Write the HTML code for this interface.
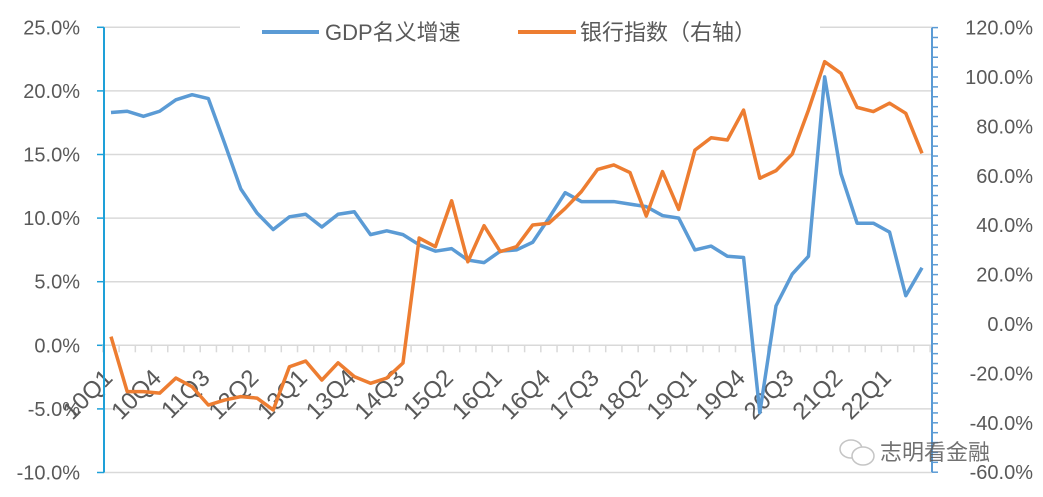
<!DOCTYPE html>
<html><head><meta charset="utf-8"><style>
html,body{margin:0;padding:0;background:#fff;}
svg{display:block;font-family:"Liberation Sans","Noto Sans CJK SC",sans-serif;}
</style></head><body>
<svg id="chart" width="1043" height="497"></svg>
<script>
const categories=["10Q1","10Q2","10Q3","10Q4","11Q1","11Q2","11Q3","11Q4","12Q1","12Q2","12Q3","12Q4","13Q1","13Q2","13Q3","13Q4","14Q1","14Q2","14Q3","14Q4","15Q1","15Q2","15Q3","15Q4","16Q1","16Q2","16Q3","16Q4","17Q1","17Q2","17Q3","17Q4","18Q1","18Q2","18Q3","18Q4","19Q1","19Q2","19Q3","19Q4","20Q1","20Q2","20Q3","20Q4","21Q1","21Q2","21Q3","21Q4","22Q1","22Q2","22Q3"];
const gdpValues=[18.3,18.4,18.0,18.4,19.3,19.7,19.4,15.9,12.3,10.4,9.1,10.1,10.3,9.3,10.3,10.5,8.7,9.0,8.7,7.9,7.4,7.6,6.7,6.5,7.4,7.5,8.1,10.0,12.0,11.3,11.3,11.3,11.1,10.9,10.2,10.0,7.5,7.8,7.0,6.9,-5.3,3.1,5.6,7.0,21.1,13.5,9.6,9.6,8.9,3.9,6.1];
const bankValues=[-5.1,-27.4,-27.4,-28,-21.9,-25.4,-32.8,-30.8,-29.4,-30,-34.8,-17.3,-15,-22.7,-15.7,-21.3,-24,-21.9,-15.8,34.8,31.3,49.9,25.2,39.8,29.3,31.3,40.1,40.8,46.8,53.6,62.6,64.4,61.3,43.7,61.7,46.4,70.4,75.4,74.5,86.6,59,62.1,68.8,86.6,106.2,101.5,87.7,86,89.4,85.3,69.1];
const leftTicks=[25,20,15,10,5,0,-5,-10];
const rightTicks=[120,100,80,60,40,20,0,-20,-40,-60];

const NS="http://www.w3.org/2000/svg";
const svg=document.getElementById('chart');
function el(t,a,p){const e=document.createElementNS(NS,t);for(const k in a)e.setAttribute(k,a[k]);(p||svg).appendChild(e);return e;}
const X0=104,X1=932,x0=111,dx=16.22;
const yL=v=>345.3-v*12.72;
const yR=v=>324-v*2.47;
const xI=i=>x0+i*dx;

leftTicks.forEach(v=>{
  if(v!==0&&v!==-10){const g=el('line',{x1:X0,x2:X1,y1:yL(v),y2:yL(v),stroke:'#d9d9d9','stroke-width':1.5});
  }
  const t=el('text',{x:80,y:yL(v)+7,'text-anchor':'end','font-size':20,fill:'#595959'});
  t.textContent=v.toFixed(1)+'%';
  
  const tk=el('line',{x1:97,x2:X0,y1:yL(v),y2:yL(v),stroke:'#1ea0d8','stroke-width':1.5});
  
});
const gb=el('line',{x1:X0,x2:X1,y1:yL(-10),y2:yL(-10),stroke:'#d9d9d9','stroke-width':1.5});

const ca=el('line',{x1:X0,x2:X1,y1:yL(0),y2:yL(0),stroke:'#d9d9d9','stroke-width':1.5});

for(let i=0;i<=categories.length;i++){
  const xx=x0-dx/2+i*dx;
  const tk=el('line',{x1:xx,x2:xx,y1:yL(0),y2:yL(0)+7,stroke:'#d9d9d9','stroke-width':1.5});
  
}
categories.forEach((c,i)=>{
  if(i%3!==0)return;
  const xx=xI(i)+3,yy=yL(0)+34;
  const t=el('text',{x:xx,y:yy,'text-anchor':'end','font-size':24,fill:'#595959',transform:`rotate(-45 ${xx} ${yy})`});
  t.textContent=c;
  
});
const la=el('line',{x1:X0,x2:X0,y1:yL(25),y2:yL(-10),stroke:'#1ea0d8','stroke-width':2});

const ra=el('line',{x1:X1,x2:X1,y1:yR(120),y2:yR(-60),stroke:'#5b9bd5','stroke-width':2});

for(let v=120;v>=-60;v-=4){
  const tk=el('line',{x1:X1,x2:X1+6,y1:yR(v),y2:yR(v),stroke:'#5b9bd5','stroke-width':1.5});
  
}
rightTicks.forEach(v=>{
  const t=el('text',{x:1033,y:yR(v)+7,'text-anchor':'end','font-size':20,fill:'#595959'});
  t.textContent=v.toFixed(1)+'%';
  
});
const gp=el('polyline',{points:gdpValues.map((v,i)=>xI(i)+','+yL(v)).join(' '),fill:'none',stroke:'#5b9bd5','stroke-width':3.5,'stroke-linejoin':'round'});

const bp=el('polyline',{points:bankValues.map((v,i)=>xI(i)+','+yR(v)).join(' '),fill:'none',stroke:'#ed7d31','stroke-width':3.5,'stroke-linejoin':'round'});

</script>
<svg style="position:absolute;left:0;top:0" width="1043" height="497">
<g>
<rect x="240" y="10" width="580" height="34" fill="#fff"/>
<g>
<line x1="262" y1="32" x2="319" y2="32" stroke="#5b9bd5" stroke-width="4"/>
<text x="325" y="40" font-size="22" fill="#595959" font-family="Liberation Sans, Noto Sans CJK SC, sans-serif">GDP名义增速</text>
</g>
<g>
<line x1="518" y1="32" x2="576" y2="32" stroke="#ed7d31" stroke-width="4"/>
<text x="580" y="40" font-size="22" fill="#595959" font-family="Liberation Sans, Noto Sans CJK SC, sans-serif">银行指数（右轴）</text>
</g>
</g>
<g opacity="0.85">
<ellipse cx="851" cy="449" rx="11" ry="9" fill="#fff" stroke="#bbb" stroke-width="1.5"/>
<ellipse cx="863" cy="456" rx="11" ry="9" fill="#fff" stroke="#bbb" stroke-width="1.5"/>
<text x="880" y="460" font-size="22" fill="#595959" font-family="Noto Sans CJK SC, sans-serif">志明看金融</text>
</g>
</svg>
</body></html>
